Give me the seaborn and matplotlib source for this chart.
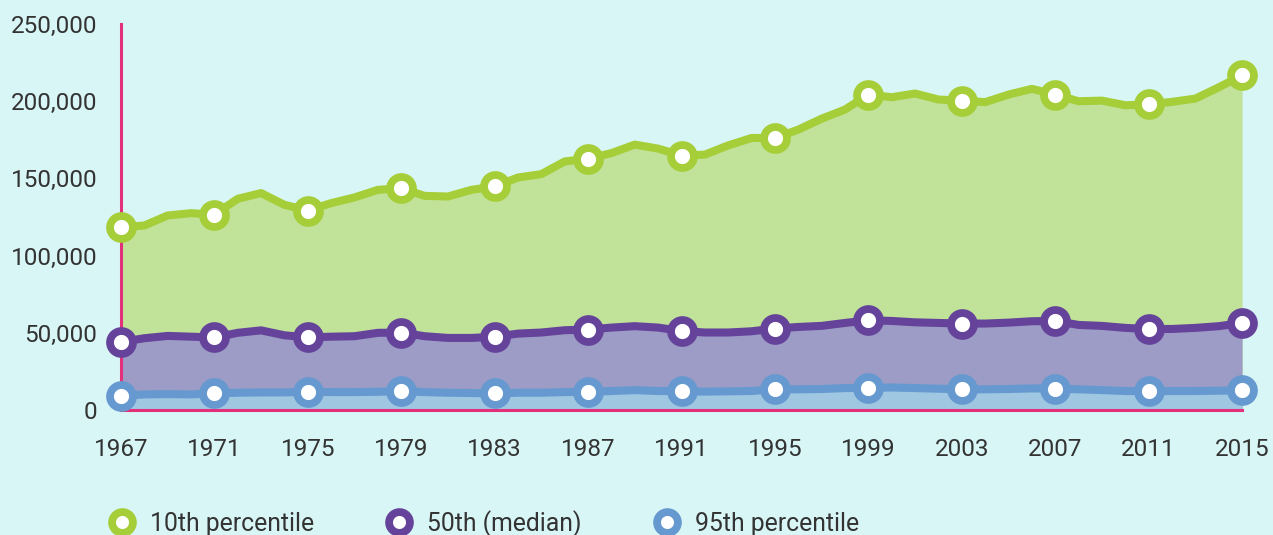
import numpy as np
import seaborn as sns
import matplotlib.pyplot as plt
from matplotlib.lines import Line2D
from matplotlib.ticker import FuncFormatter

# Household income by percentile, yearly 1967-2015
years = list(range(1967, 2016))

top_line = [118.4, 119.5, 126.0, 127.5, 126.6, 136.8, 140.5, 132.9, 129.2, 134.0,
            137.7, 142.6, 143.7, 138.7, 138.3, 142.6, 144.8, 150.6, 152.8, 161.0,
            162.8, 166.4, 171.9, 169.3, 164.8, 165.4, 171.4, 176.2, 176.2, 181.6,
            188.7, 194.6, 204.3, 202.6, 205.0, 201.1, 200.4, 199.4, 204.3, 208.0,
            204.3, 200.0, 200.4, 197.4, 197.9, 199.6, 201.7, 209.0, 216.7]

mid_line = [44.1, 46.5, 48.0, 47.5, 47.0, 50.0, 51.6, 48.4, 47.0, 47.5,
            47.8, 50.0, 50.2, 47.8, 46.7, 46.7, 47.4, 49.5, 50.2, 51.7,
            52.1, 53.4, 54.3, 53.4, 51.2, 50.2, 50.2, 51.0, 52.8, 53.8,
            54.5, 56.4, 58.1, 57.7, 56.8, 56.4, 56.0, 56.0, 56.6, 57.5,
            57.7, 55.1, 54.5, 53.2, 52.5, 52.5, 53.2, 54.3, 56.4]

low_line = [9.2, 10.1, 10.3, 10.1, 10.8, 11.2, 11.4, 11.4, 11.8, 11.6,
            11.6, 11.8, 12.3, 11.6, 11.2, 11.0, 10.8, 11.2, 11.2, 11.6,
            11.8, 12.3, 12.9, 12.3, 12.3, 11.9, 12.1, 12.3, 13.4, 13.4,
            13.6, 14.2, 14.4, 14.6, 14.2, 13.8, 13.4, 13.4, 13.6, 14.0,
            13.8, 13.4, 12.9, 12.3, 12.1, 12.3, 12.3, 12.5, 12.7]

labels = ['10th percentile', '50th (median)', '95th percentile']
line_colors = ['#a6ce39', '#65439a', '#6699cf']
fill_colors = ['#c1e299', '#9c9cc6', '#9fc7e2']
tick_years = list(range(1967, 2016, 4))

bg = '#d9f6f6'
axis_col = '#e3307a'
text_col = '#333333'

sns.set_style('white')
plt.rcParams['font.family'] = ['Roboto', 'DejaVu Sans']

fig = plt.figure(figsize=(12.73, 5.35), dpi=100, facecolor=bg)
ax = fig.add_axes([0.095, 0.2336, 0.8807, 0.7215])
ax.set_facecolor(bg)

series = [np.array(top_line) * 1000, np.array(mid_line) * 1000, np.array(low_line) * 1000]

# stacked-looking areas, each filled down to zero
for vals, fc in zip(series, fill_colors):
    ax.fill_between(years, 0, vals, color=fc, lw=0, zorder=1)

for vals, lc in zip(series, line_colors):
    sns.lineplot(x=years, y=vals, ax=ax, color=lc, lw=5.8, marker='o',
                 markevery=4, markersize=16.5, markerfacecolor='white',
                 markeredgecolor=lc, markeredgewidth=5.6, clip_on=False,
                 zorder=3, solid_joinstyle='round')

ax.set_xlim(1967, 2015)
ax.set_ylim(0, 250000)
ax.set_xticks(tick_years)
ax.set_xticklabels([str(y) for y in tick_years])
ax.set_yticks(range(0, 250001, 50000))
ax.yaxis.set_major_formatter(FuncFormatter(lambda v, p: f'{v:,.0f}'))
ax.tick_params(axis='both', length=0, labelsize=17.5, colors=text_col)
ax.tick_params(axis='x', pad=20)
ax.tick_params(axis='y', pad=17)
ax.set_xlabel('')
ax.set_ylabel('')

for s in ['top', 'right']:
    ax.spines[s].set_visible(False)
for s in ['left', 'bottom']:
    ax.spines[s].set_color(axis_col)
    ax.spines[s].set_linewidth(2.2)
    ax.spines[s].set_zorder(2)

handles = [Line2D([], [], ls='none', marker='o', markersize=15, markerfacecolor='white',
                  markeredgecolor=c, markeredgewidth=5.6) for c in line_colors]
fig.legend(handles, labels, loc='center left', bbox_to_anchor=(0.0858, 0.022),
           ncol=3, frameon=False, fontsize=17.8, handlelength=1.0,
           handletextpad=0.64, columnspacing=2.95, borderaxespad=0, borderpad=0,
           labelcolor=text_col)

fig.savefig('out.png', dpi=100, facecolor=bg)
